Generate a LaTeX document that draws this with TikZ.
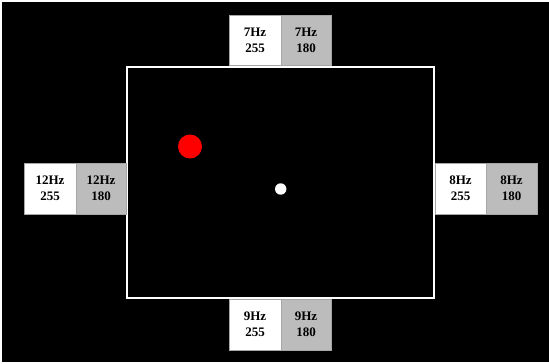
\documentclass[tikz,border=0pt]{standalone}
\usepackage{fontspec}
\setmainfont{Liberation Serif}
\begin{document}
\begin{tikzpicture}[x=1pt,y=-1pt,
  wbox/.style={draw=gray!70,line width=0.6pt,fill=white},
  gbox/.style={draw=gray!70,line width=0.6pt,fill=lightgray!95!gray},
  lbl/.style={align=center,font=\fontsize{13}{16}\selectfont\bfseries,text=black,inner sep=0pt}]
\useasboundingbox (0,0) rectangle (549,364);
\fill[white] (0,0) rectangle (549,364);
\fill[black] (2,2) rectangle (549,362);
% arena
\draw[white,line width=2pt] (127,67) rectangle (434,298);
% top
\draw[wbox] (229,15) rectangle (281,65);
\draw[gbox] (281,15) rectangle (331,65);
\node[lbl] (t1) at (255,40) {7Hz\\255};
\node[lbl] (t2) at (306,40) {7Hz\\180};
% left
\draw[wbox] (24,163) rectangle (76,214);
\draw[gbox] (76,163) rectangle (126,214);
\node[lbl] (l1) at (50,188.5) {12Hz\\255};
\node[lbl] (l2) at (101,188.5) {12Hz\\180};
% right
\draw[wbox] (435,163) rectangle (486,214);
\draw[gbox] (486,163) rectangle (537,214);
\node[lbl] (r1) at (460.5,188.5) {8Hz\\255};
\node[lbl] (r2) at (511.5,188.5) {8Hz\\180};
% bottom
\draw[wbox] (229,299) rectangle (281,350);
\draw[gbox] (281,299) rectangle (331,350);
\node[lbl] (b1) at (255,324.5) {9Hz\\255};
\node[lbl] (b2) at (306,324.5) {9Hz\\180};
% dots
\fill[red] (190,146.5) circle (12);
\fill[white] (280.7,189) circle (5.7);
\end{tikzpicture}
\end{document}
